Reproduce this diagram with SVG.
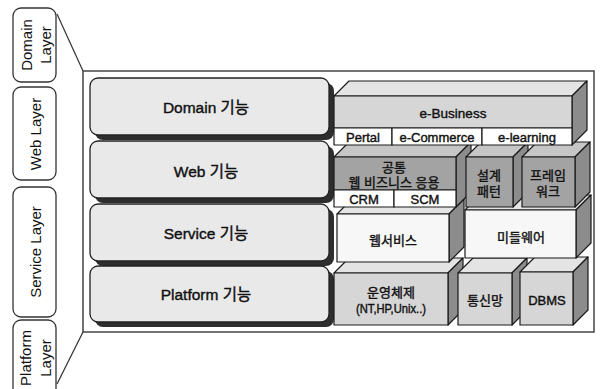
<svg xmlns="http://www.w3.org/2000/svg" width="600" height="389" viewBox="0 0 600 389">
<style>
.t{font-family:"Liberation Sans","Noto Sans CJK KR",sans-serif;text-anchor:middle;dominant-baseline:central;fill:#111}
.b{stroke:#111;stroke-width:0.4}
.lb{fill:#fff;stroke:#333;stroke-width:1.3}
.fb{fill:#e9e9e9;stroke:#222;stroke-width:1.3}
.sh{fill:#2e2e2e}
.e{stroke:#1a1a1a;stroke-width:1.2;stroke-linejoin:round}
.fl{fill:#d6d6d6}
.fd{fill:#a3a3a3}
.fw{fill:#f7f7f7}
.fwh{fill:#fff}
.tp{fill:#e4e4e4}
.tpd{fill:#c6c6c6}
.sd{fill:#8c8c8c}
.conn{stroke:#333;stroke-width:1.2;fill:none}
</style>
<rect width="600" height="389" fill="#fff"/>
<g id="frame">
<rect x="83" y="71" width="511" height="261" fill="#fff" stroke="#444" stroke-width="1.5"/>
</g>
<g id="connectors">
<line class="conn" x1="57" y1="14" x2="83" y2="71"/>
<line class="conn" x1="83" y1="332" x2="57" y2="384"/>
</g>
<g id="domain-layer">
<rect class="lb" x="13" y="8" width="43" height="74" rx="8"/>
<text class="t" font-size="15" transform="translate(35,45) rotate(-90)"><tspan x="0" y="-9">Domain</tspan><tspan x="0" y="10">Layer</tspan></text>
</g>
<g id="web-layer">
<rect class="lb" x="13" y="87" width="43" height="93" rx="8"/>
<text class="t" font-size="15" transform="translate(35,134) rotate(-90)">Web Layer</text>
</g>
<g id="service-layer">
<rect class="lb" x="13" y="187" width="43" height="130" rx="8"/>
<text class="t" font-size="15" transform="translate(35,252) rotate(-90)">Service Layer</text>
</g>
<g id="platform-layer">
<rect class="lb" x="13" y="320" width="43" height="90" rx="8"/>
<text class="t" font-size="15" transform="translate(35,358) rotate(-90)"><tspan x="0" y="-10">Platform</tspan><tspan x="0" y="10">Layer</tspan></text>
</g>
<g id="domain-func">
<rect class="sh" x="95" y="83" width="239" height="57" rx="8"/>
<rect class="fb" x="90" y="78" width="239" height="57" rx="8"/>
<text class="t b" font-size="15.5" x="206" y="107">Domain 기능</text>
</g>
<g id="web-func">
<rect class="sh" x="95" y="146" width="239" height="57" rx="8"/>
<rect class="fb" x="90" y="141" width="239" height="57" rx="8"/>
<text class="t b" font-size="15.5" x="206" y="171">Web 기능</text>
</g>
<g id="service-func">
<rect class="sh" x="95" y="209" width="239" height="57" rx="8"/>
<rect class="fb" x="90" y="204" width="239" height="57" rx="8"/>
<text class="t b" font-size="15.5" x="206" y="233">Service 기능</text>
</g>
<g id="platform-func">
<rect class="sh" x="95" y="271" width="239" height="56" rx="8"/>
<rect class="fb" x="90" y="266" width="239" height="56" rx="8"/>
<text class="t b" font-size="15.5" x="206" y="294">Platform 기능</text>
</g>
<g id="os">
<polygon class="tp e" points="334,273 349,258 463,258 448,273"/>
<polygon class="sd e" points="448,273 463,258 463,310 448,325"/>
<rect class="fl e" x="334" y="273" width="114" height="52"/>
<text class="t b" font-size="13" x="391" y="292">운영체제</text>
<text class="t b" font-size="12" x="391" y="309" textLength="70" lengthAdjust="spacingAndGlyphs">(NT,HP,Unix..)</text>
</g>
<g id="network">
<polygon class="tp e" points="458,273 473,258 527,258 512,273"/>
<polygon class="sd e" points="512,273 527,258 527,310 512,325"/>
<rect class="fl e" x="458" y="273" width="54" height="52"/>
<text class="t b" font-size="13" x="485" y="300">통신망</text>
</g>
<g id="dbms">
<polygon class="tp e" points="520,272 535,257 588,257 573,272"/>
<polygon class="sd e" points="573,272 588,257 588,310 573,325"/>
<rect class="fl e" x="520" y="272" width="53" height="53"/>
<text class="t b" font-size="13" x="547" y="300">DBMS</text>
</g>
<g id="webservice">
<polygon class="tp e" points="337,214 352,199 464,199 449,214"/>
<polygon class="sd e" points="449,214 464,199 464,247 449,262"/>
<rect class="fw e" x="337" y="214" width="112" height="48"/>
<text class="t b" font-size="13" x="393" y="240">웹서비스</text>
</g>
<g id="middleware">
<polygon class="tp e" points="465,210 480,195 591,195 576,210"/>
<polygon class="sd e" points="576,210 591,195 591,243 576,258"/>
<rect class="fw e" x="465" y="210" width="111" height="48"/>
<text class="t b" font-size="13" x="521" y="237">미들웨어</text>
</g>
<g id="common-web">
<polygon class="tpd e" points="334,157 349,142 471,142 456,157"/>
<polygon class="sd e" points="456,157 471,142 471,192 456,207"/>
<rect class="fd e" x="334" y="157" width="122" height="33"/>
<rect class="fwh e" x="334" y="190" width="60" height="17"/>
<rect class="fwh e" x="394" y="190" width="62" height="17"/>
<text class="t b" font-size="13" x="394" y="167">공통</text>
<text class="t b" font-size="13" x="394" y="182">웹 비즈니스 응용</text>
<text class="t b" font-size="13" x="364" y="199">CRM</text>
<text class="t b" font-size="13" x="425" y="199">SCM</text>
</g>
<g id="design-pattern">
<polygon class="tpd e" points="466,157 481,142 528,142 513,157"/>
<polygon class="sd e" points="513,157 528,142 528,192 513,207"/>
<rect class="fd e" x="466" y="157" width="47" height="50"/>
<text class="t b" font-size="13" x="489" y="175">설계</text>
<text class="t b" font-size="13" x="489" y="191">패턴</text>
</g>
<g id="framework">
<polygon class="tpd e" points="522,157 537,142 590,142 575,157"/>
<polygon class="sd e" points="575,157 590,142 590,192 575,207"/>
<rect class="fd e" x="522" y="157" width="53" height="50"/>
<text class="t b" font-size="13" x="548" y="175">프레임</text>
<text class="t b" font-size="13" x="548" y="191">워크</text>
</g>
<g id="ebusiness">
<polygon class="tp e" points="334,96 349,81 587,81 572,96"/>
<polygon class="sd e" points="572,96 587,81 587,130 572,145"/>
<rect class="fl e" x="334" y="96" width="238" height="32"/>
<rect class="fwh e" x="334" y="128" width="58" height="17"/>
<rect class="fwh e" x="392" y="128" width="90" height="17"/>
<rect class="fwh e" x="482" y="128" width="90" height="17"/>
<text class="t b" font-size="13.5" x="453" y="113">e-Business</text>
<text class="t b" font-size="13" x="363" y="137">Pertal</text>
<text class="t b" font-size="13" x="437" y="137">e-Commerce</text>
<text class="t b" font-size="13" x="527" y="137">e-learning</text>
</g>
</svg>
